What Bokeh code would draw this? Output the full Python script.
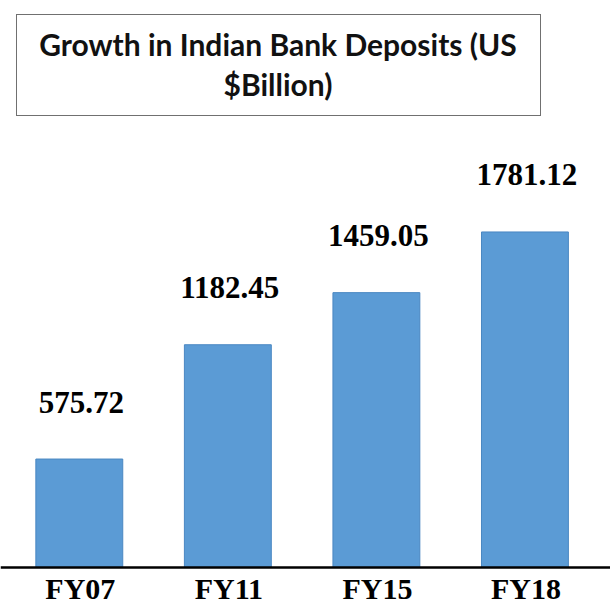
from bokeh.plotting import figure
from bokeh.models import Range1d, Span, Div, ColumnDataSource
from bokeh.layouts import column
from bokeh.core.properties import value
from bokeh.embed import file_html
from bokeh.resources import INLINE

categories = ["FY07", "FY11", "FY15", "FY18"]
deposits = [575.72, 1182.45, 1459.05, 1781.12]
value_labels = ["575.72", "1182.45", "1459.05", "1781.12"]
title_lines = ["Growth in Indian Bank Deposits (US", "$Billion)"]

positions = list(range(len(categories)))
src = ColumnDataSource(dict(pos=positions, cat=categories, val=deposits,
                            lab=value_labels, zero=[0] * len(categories)))

title_div = Div(
    text='<div style="width:522px;text-align:center;font-family:Lato;font-weight:bold;'
         'font-size:30px;line-height:40px;padding-top:9px;color:#111;">'
         + title_lines[0] + "<br>" + title_lines[1] + "</div>",
    width=525, height=102, margin=(14, 0, 0, 16), disable_math=True,
    styles={"border": "1.5px solid #707070", "box-sizing": "border-box"},
)

p = figure(x_range=Range1d(-0.5305, 3.576), y_range=Range1d(-207, 2394),
           width=610, height=490, output_backend="svg", toolbar_location=None,
           min_border=0, outline_line_color=None, margin=(0, 0, 0, 0))
p.axis.visible = False
p.grid.visible = False
p.background_fill_color = "white"

p.vbar(x="pos", top="val", bottom=0, width=0.585, source=src,
       fill_color="#5B9BD5", line_color="#4A87C2", line_width=1)

p.add_layout(Span(location=0, dimension="width", line_color="black", line_width=2.5))

p.text(x="pos", y="val", text="lab", source=src, text_align="center",
       text_baseline="alphabetic", y_offset=-57, x_offset=2,
       text_font=value("Liberation Serif"), text_font_style="bold",
       text_font_size="31px", text_color="black")

p.text(x="pos", y="zero", text="cat", source=src, text_align="center",
       text_baseline="alphabetic", y_offset=21, x_offset=1,
       text_font=value("Liberation Serif"), text_font_style="bold",
       text_font_size="30px", text_color="black")

layout = column(title_div, p, spacing=0)
open("out.html", "w").write(file_html(layout, INLINE))
